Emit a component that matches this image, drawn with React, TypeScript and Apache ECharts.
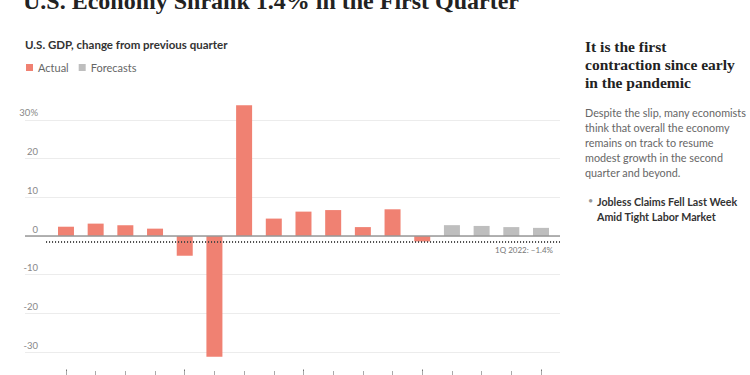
import React, { useEffect, useRef } from "react";
import * as echarts from "echarts";

const categories = [
  "1Q 2019", "2Q 2019", "3Q 2019", "4Q 2019",
  "1Q 2020", "2Q 2020", "3Q 2020", "4Q 2020",
  "1Q 2021", "2Q 2021", "3Q 2021", "4Q 2021",
  "1Q 2022", "2Q 2022", "3Q 2022", "4Q 2022",
  "1Q 2023",
];
const actual = [2.4, 3.2, 2.8, 1.9, -5.1, -31.2, 33.8, 4.5, 6.3, 6.7, 2.3, 6.9, -1.4];
const forecasts = [2.8, 2.6, 2.3, 2.1];

const TITLE = "U.S. Economy Shrank 1.4% in the First Quarter";
const SUBTITLE = "U.S. GDP, change from previous quarter";
const SIDE_HEAD = "It is the first\ncontraction since early\nin the pandemic";
const SIDE_BODY =
  "Despite the slip, many economists\nthink that overall the economy\nremains on track to resume\nmodest growth in the second\nquarter and beyond.";
const SIDE_LINK = "Jobless Claims Fell Last Week\nAmid Tight Labor Market";

const RED = "#F08172";
const GRAY = "#BEBEBE";

export default function App() {
  const ref = useRef<HTMLDivElement>(null);

  useEffect(() => {
    if (!ref.current) return;
    const chart = echarts.init(ref.current, undefined, { renderer: "svg" });
    const last = actual[actual.length - 1];
    const lastLabel = `${categories[actual.length - 1]}: \u2212${Math.abs(last)}%`;

    const gridTop = 81.2;
    const gridH = 309.6;
    const H = 400;

    chart.setOption({
      animation: false,
      backgroundColor: "#fff",
      textStyle: { fontFamily: "Lato" },
      legend: {
        left: 26,
        top: 62,
        padding: 0,
        icon: "rect",
        itemWidth: 7,
        itemHeight: 7,
        itemGap: 10,
        textStyle: { fontSize: 11, color: "#666", fontFamily: "Lato" },
        data: ["Actual", "Forecasts"],
      },
      grid: [
        { left: 25, width: 535, top: gridTop, height: gridH },
        { left: 51.13, width: 504.7, top: gridTop, bottom: H - 369.5 },
      ],
      xAxis: [
        { type: "value", gridIndex: 0, min: -1.38, max: 16.64, show: false },
        {
          type: "category",
          gridIndex: 1,
          position: "bottom",
          data: categories,
          boundaryGap: true,
          axisLine: { show: false, onZero: false },
          axisLabel: { show: false },
          axisTick: {
            show: true,
            alignWithLabel: true,
            length: 7,
            interval: (i: number) => i % 4 === 0,
            lineStyle: { color: "#777", width: 1 },
          },
        },
        {
          type: "category",
          gridIndex: 1,
          position: "bottom",
          offset: 1.5,
          data: categories,
          boundaryGap: true,
          axisLine: { show: false, onZero: false },
          axisLabel: { show: false },
          axisTick: {
            show: true,
            alignWithLabel: true,
            length: 4,
            interval: 0,
            lineStyle: { color: "#aaa", width: 1 },
          },
        },
      ],
      yAxis: [
        {
          type: "value",
          gridIndex: 0,
          min: -40,
          max: 40,
          interval: 10,
          axisLine: { show: false },
          axisTick: { show: false },
          splitLine: {
            show: true,
            showMinLine: false,
            showMaxLine: false,
            lineStyle: { color: "#ececec", width: 1 },
          },
          axisLabel: {
            inside: true,
            align: "right",
            margin: 13,
            verticalAlign: "bottom",
            padding: [0, 0, 2, 0],
            fontSize: 9.5,
            color: "#888",
            fontFamily: "Lato",
            formatter: (v: number) =>
              v >= 40 || v <= -40 ? "" : v === 30 ? "30%" : String(v),
          },
        },
        { type: "value", gridIndex: 1, min: -40, max: 40, show: false },
      ],
      series: [
        {
          name: "Actual",
          type: "bar",
          xAxisIndex: 0,
          yAxisIndex: 0,
          barWidth: 16,
          barGap: "-100%",
          itemStyle: { color: RED },
          data: actual.map((v, i) => [i, v]),
          markLine: {
            silent: true,
            symbol: "none",
            label: { show: false },
            data: [
              [
                { coord: [-0.67, last] },
                { coord: [16.64, last] },
              ],
            ],
            lineStyle: { color: "#444", type: [1, 2], width: 2 },
          },
          z: 3,
        },
        {
          name: "Forecasts",
          type: "bar",
          xAxisIndex: 0,
          yAxisIndex: 0,
          barWidth: 16,
          barGap: "-100%",
          itemStyle: { color: GRAY },
          data: forecasts.map((v, j) => [actual.length + j, v]),
          markLine: {
            silent: true,
            symbol: "none",
            label: { show: false },
            data: [{ yAxis: 0 }],
            lineStyle: { color: "#999", type: "solid", width: 1.5 },
          },
          z: 3,
        },
        {
          name: "ticks",
          type: "bar",
          xAxisIndex: 1,
          yAxisIndex: 1,
          silent: true,
          data: categories.map(() => null),
        },
      ],
      graphic: [
        {
          type: "text",
          x: 23,
          y: 1,
          style: {
            text: TITLE,
            font: 'bold 24px "Liberation Serif"',
            fill: "#222",
            align: "left",
            verticalAlign: "middle",
          },
        },
        {
          type: "text",
          x: 25,
          y: 44.5,
          style: {
            text: SUBTITLE,
            font: 'bold 11.5px "Lato"',
            fill: "#333",
            align: "left",
            verticalAlign: "middle",
          },
        },
        {
          type: "text",
          x: 553,
          y: 250,
          style: {
            text: lastLabel,
            font: '8px "Lato"',
            fill: "#777",
            align: "right",
            verticalAlign: "middle",
          },
        },
        {
          type: "text",
          x: 585,
          y: 37.5,
          style: {
            text: SIDE_HEAD,
            font: 'bold 15.5px "Liberation Serif"',
            lineHeight: 18,
            fill: "#222",
            align: "left",
            verticalAlign: "top",
          },
        },
        {
          type: "text",
          x: 585,
          y: 105,
          style: {
            text: SIDE_BODY,
            font: '10.8px "Lato"',
            lineHeight: 15,
            fill: "#666",
            align: "left",
            verticalAlign: "top",
          },
        },
        {
          type: "text",
          x: 588,
          y: 200,
          style: {
            text: "\u2022",
            font: '9px "Lato"',
            fill: "#999",
            align: "left",
            verticalAlign: "middle",
          },
        },
        {
          type: "text",
          x: 597,
          y: 193.5,
          style: {
            text: SIDE_LINK,
            font: 'bold 10.7px "Lato"',
            lineHeight: 15,
            fill: "#333",
            align: "left",
            verticalAlign: "top",
          },
        },
      ],
    });

    return () => chart.dispose();
  }, []);

  return (
    <div
      style={{
        position: "absolute",
        left: 0,
        top: 0,
        width: 750,
        height: 375,
        overflow: "hidden",
        background: "#fff",
      }}
    >
      <div ref={ref} style={{ width: 750, height: 400 }} />
    </div>
  );
}
